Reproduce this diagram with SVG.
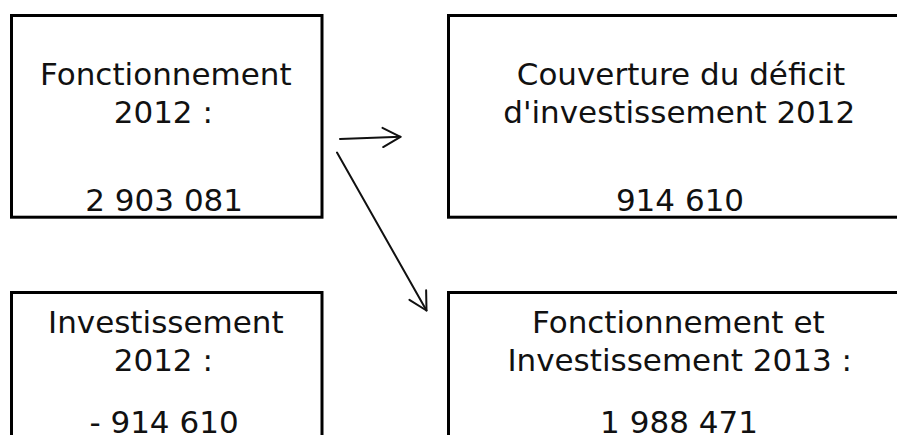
<svg xmlns="http://www.w3.org/2000/svg" width="897" height="435" viewBox="0 0 897 435">
<style>
.box{fill:#fff;stroke:#000;stroke-width:3}
.t{font-family:"DejaVu Sans","Verdana",sans-serif;font-size:31px;fill:#111;text-anchor:middle}
.con{fill:none;stroke:#111;stroke-width:2;stroke-linecap:round}
</style>
<defs>
<marker id="ah" markerUnits="userSpaceOnUse" markerWidth="30" markerHeight="30" refX="0" refY="0" viewBox="-22 -15 30 30" orient="auto" overflow="visible">
<path d="M -17.7,-9.6 L 0,0 L -17.7,9.6" fill="none" stroke="#111" stroke-width="2" stroke-linecap="round" stroke-linejoin="round"/>
</marker>
</defs>
<rect width="897" height="435" fill="#fff"/>
<g id="n1">
<rect class="box" x="11.5" y="15.5" width="310.5" height="201.7"/>
<text class="t" x="165.8" y="85">Fonctionnement</text>
<text class="t" x="163.3" y="122.7">2012 :</text>
<text class="t" x="164.2" y="211">2 903 081</text>
</g>
<g id="n2">
<rect class="box" x="448.5" y="15.5" width="463" height="201.7"/>
<text class="t" x="681" y="85">Couverture du déficit</text>
<text class="t" x="679.3" y="122.7">d'investissement 2012</text>
<text class="t" x="680" y="211">914 610</text>
</g>
<g id="n3">
<rect class="box" x="11.5" y="292.5" width="310.5" height="160"/>
<text class="t" x="165.8" y="333.3">Investissement</text>
<text class="t" x="163.3" y="371">2012 :</text>
<text class="t" x="164" y="432.5">- 914 610</text>
</g>
<g id="n4">
<rect class="box" x="448.5" y="292.5" width="463" height="160"/>
<text class="t" x="678.3" y="333.3">Fonctionnement et</text>
<text class="t" x="679.7" y="371">Investissement 2013 :</text>
<text class="t" x="679" y="432.5">1 988 471</text>
</g>
<g id="connectors">
<path class="con" d="M 340,139 L 400.5,136.8" marker-end="url(#ah)"/>
<path class="con" d="M 337,152.5 L 426.5,310.5" marker-end="url(#ah)"/>
</g>
</svg>
